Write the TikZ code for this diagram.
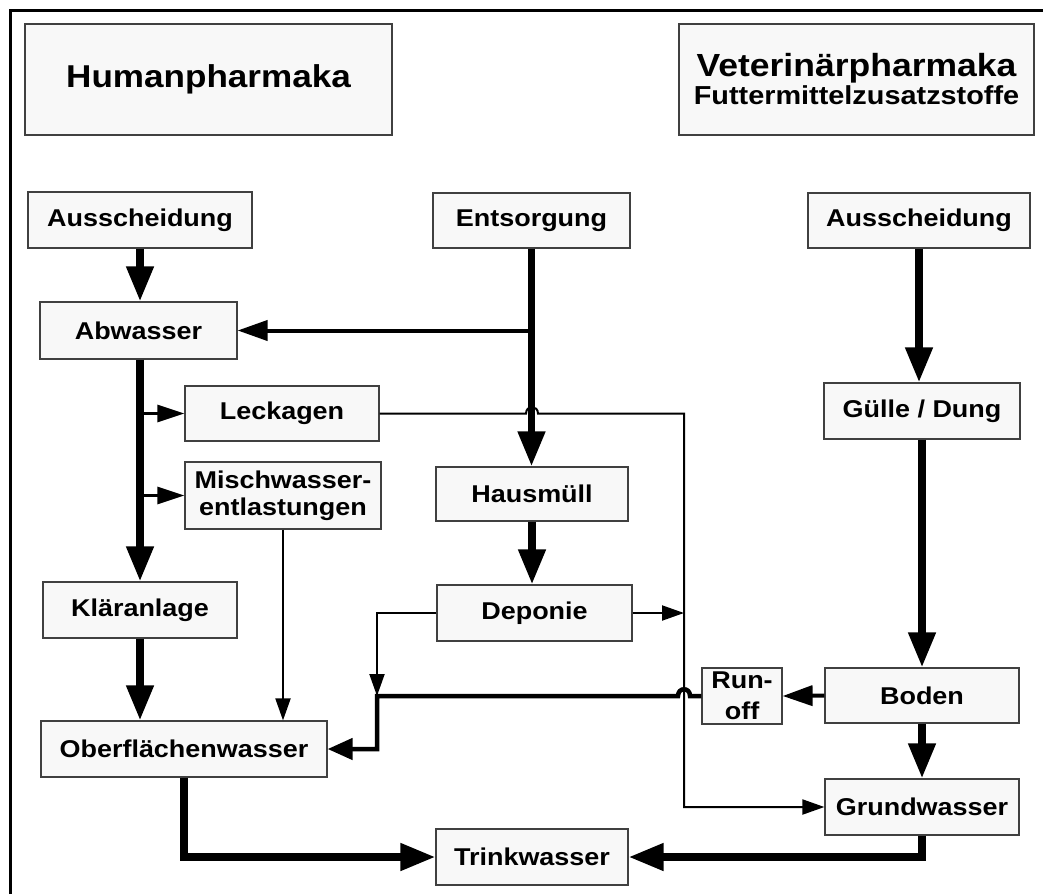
\documentclass[tikz,border=0pt]{standalone}
\usepackage{fontspec}
\setmainfont{Liberation Sans}[FakeStretch=1.11]
\usetikzlibrary{arrows.meta}
\definecolor{boxfill}{HTML}{F8F8F8}
\definecolor{boxline}{HTML}{404040}
\tikzset{
  box/.style={draw=boxline, fill=boxfill, line width=1.2pt, inner sep=0pt, align=center,
    font=\fontsize{24.3}{27}\selectfont\bfseries},
  thick arrow/.style={line width=7.5pt, -{Triangle[length=35pt,width=26pt]}},
  mid arrow/.style={line width=4pt, -{Triangle[length=30pt,width=20pt]}},
  small arrow/.style={line width=3pt, -{Triangle[length=27pt,width=17pt]}},
  thin arrow/.style={line width=2pt, -{Triangle[length=22pt,width=15pt]}},
}
\begin{document}
\begin{tikzpicture}[x=1pt,y=-1pt, line join=miter]
\useasboundingbox (0,0) rectangle (1043,894);
% frame (left and top)
\draw[line width=3.5pt] (10.5,894) -- (10.5,10.5) -- (1043,10.5);

% title boxes
\node[box, minimum width=367pt, minimum height=111pt, font=\fontsize{31.6}{34}\selectfont\bfseries] (hum) at (208.5,79.5) {Humanpharmaka};
\node[box, minimum width=355pt, minimum height=111pt] (vet) at (856.5,79.5)
  {{\fontsize{32}{34}\selectfont Veterinärpharmaka}\\[1pt]{\fontsize{26}{28}\selectfont Futtermittelzusatzstoffe}};

% nodes
\node[box, minimum width=224pt, minimum height=56pt] (ausL) at (140,220) {Ausscheidung};
\node[box, minimum width=197pt, minimum height=55pt] (ents) at (531.5,220.5) {Entsorgung};
\node[box, minimum width=222pt, minimum height=55pt] (ausR) at (919,220.5) {Ausscheidung};
\node[box, minimum width=197pt, minimum height=57pt] (abw) at (138.5,330.5) {Abwasser};
\node[box, minimum width=194pt, minimum height=55pt] (leck) at (282,413.5) {Leckagen};
\node[box, minimum width=196pt, minimum height=67pt] (misch) at (283,495.5) {Mischwasser-\\entlastungen};
\node[box, minimum width=192pt, minimum height=54pt] (haus) at (532,494) {Hausmüll};
\node[box, minimum width=196pt, minimum height=56pt] (guelle) at (922,411) {Gülle / Dung};
\node[box, minimum width=194pt, minimum height=56pt] (klaer) at (140,610) {Kläranlage};
\node[box, minimum width=195pt, minimum height=56pt] (dep) at (534.5,613) {Deponie};
\node[box, minimum width=80pt, minimum height=56pt] (runoff) at (742,696) {Run-\\[4pt]off};
\node[box, minimum width=194pt, minimum height=55pt] (boden) at (922,695.5) {Boden};
\node[box, minimum width=286pt, minimum height=56pt] (oberfl) at (184,749) {Oberflächenwasser};
\node[box, minimum width=194pt, minimum height=56pt] (grund) at (922,807) {Grundwasser};
\node[box, minimum width=192pt, minimum height=56pt] (trink) at (532,857) {Trinkwasser};

% coordinates
\coordinate (j1) at (ents.south |- abw.east);
\coordinate (v1) at (684,613);
\coordinate (lx) at (684,413.5);
\coordinate (k1) at (377,696);
\coordinate (k2) at (377,613);
\coordinate (k3) at (377,749);

% human side
\draw[thick arrow] (ausL.south) -- (ausL.south |- abw.north);
\draw[thick arrow] (klaer.north |- abw.south) -- (klaer.north);
\draw[small arrow] (klaer.north |- leck.west) -- (leck.west);
\draw[small arrow] (klaer.north |- misch.west) -- (misch.west);
\draw[thick arrow] (klaer.south) -- (klaer.south |- oberfl.north);
\draw[thin arrow] (misch.south) -- (misch.south |- oberfl.north);

% Entsorgung
\draw[thick arrow] (ents.south) -- (ents.south |- haus.north);
\draw[mid arrow] (j1) -- (abw.east);
\draw[thick arrow] (haus.south) -- (haus.south |- dep.north);

% Leckagen line with jump over Entsorgung line
\draw[thin arrow] (leck.east) -- (526,413.5) .. controls (526,405) and (538,405) .. (538,413.5)
  -- (lx) -- (lx |- grund.west) -- (grund.west);

% Deponie
\draw[thin arrow] (dep.east) -- (v1);
\draw[thin arrow] (dep.west) -- (k2) -- (k1);

% veterinary side
\draw[thick arrow] (ausR.south) -- (ausR.south |- guelle.north);
\draw[thick arrow] (guelle.south) -- (boden.north);
\draw[thick arrow] (boden.south) -- (grund.north);
\draw[mid arrow] (boden.west) -- (runoff.east);

% Run-off to Oberflächenwasser, jumping the thin line
\draw[line width=4.5pt, -{Triangle[length=25pt,width=21pt]}] (runoff.west) -- (690,696)
  .. controls (690,687) and (678,687) .. (678,696) -- (k1) -- (k3) -- (oberfl.east);

% to Trinkwasser
\draw[thick arrow] (oberfl.south) |- (trink.west);
\draw[thick arrow] (grund.south) |- (trink.east);
\end{tikzpicture}
\end{document}
